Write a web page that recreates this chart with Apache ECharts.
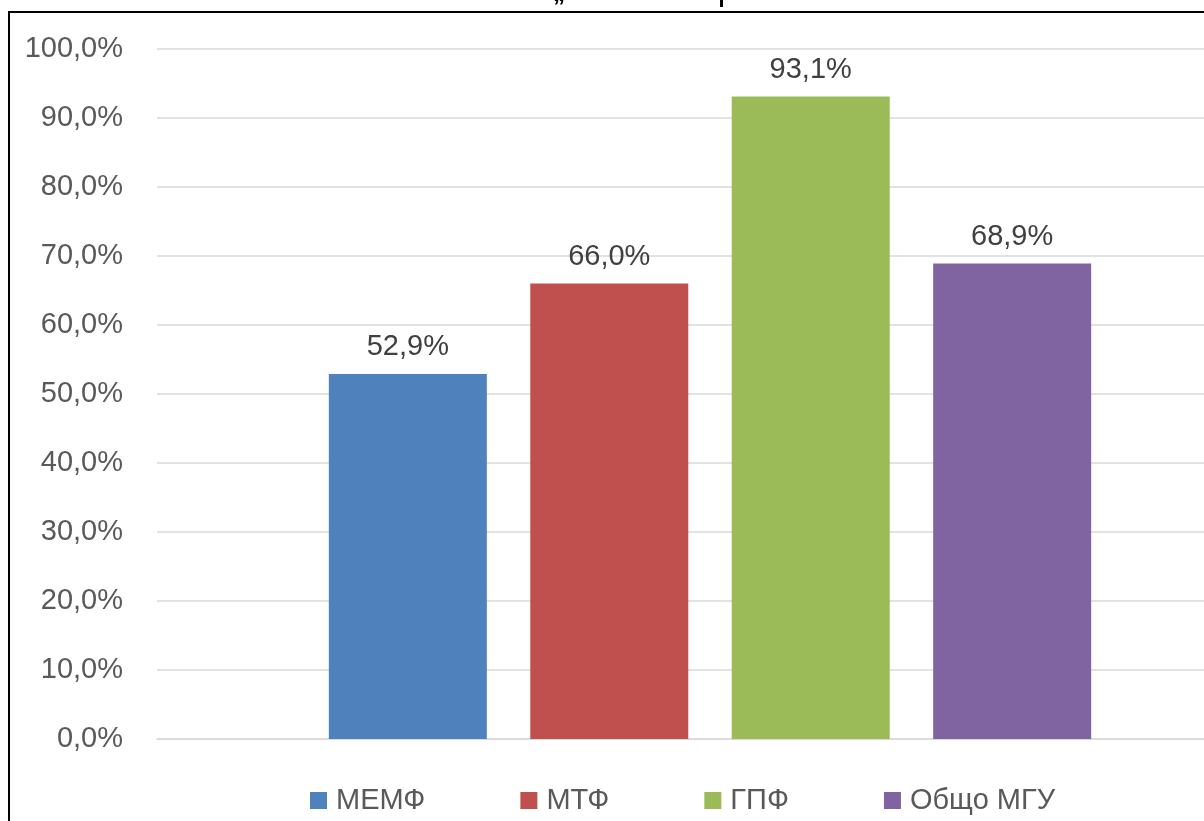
<!DOCTYPE html>
<html>
<head>
<meta charset="utf-8">
<script src="https://cdn.jsdelivr.net/npm/echarts@6/dist/echarts.min.js"></script>
<style>
  html, body { margin: 0; padding: 0; background: #fff; overflow: hidden; }
  /* the reference is cropped on the right, so the canvas is wider than the window */
  #chart { width: 1300px; height: 821px; }
</style>
</head>
<body>
<div id="chart"></div>
<script>
var categories = [''];
var seriesNames = ['МЕМФ', 'МТФ', 'ГПФ', 'Общо МГУ'];
var seriesValues = [52.9, 66.0, 93.1, 68.9];
var seriesColors = ['#4F81BD', '#C0504D', '#9BBB59', '#8064A2'];

var fontName = '"Liberation Sans", Arial, sans-serif';

function pct(v) {
    return Number(v).toFixed(1).replace('.', ',') + '%';
}

var chart = echarts.init(document.getElementById('chart'));

var series = seriesNames.map(function (name, i) {
    return {
        name: name,
        type: 'bar',
        data: [seriesValues[i]],
        barWidth: 158,
        barGap: '27.5%',
        itemStyle: { color: seriesColors[i] },
        label: {
            show: true,
            position: 'top',
            distance: 12,
            formatter: function (p) { return pct(p.value); },
            fontFamily: fontName,
            fontSize: 29,
            color: '#404040'
        }
    };
});

chart.setOption({
    backgroundColor: '#fff',
    animation: false,
    grid: { left: 157, right: 37, top: 49, bottom: 82, containLabel: false },
    legend: {
        left: 305,
        top: 781,
        itemWidth: 17,
        itemHeight: 17,
        itemGap: 95,
        icon: 'rect',
        textStyle: { fontFamily: fontName, fontSize: 29, color: '#595959', padding: [0, 0, 0, 4] },
        data: seriesNames
    },
    xAxis: {
        type: 'category',
        data: categories,
        axisLine: { lineStyle: { color: '#d9d9d9', width: 1.5 } },
        axisTick: { show: false },
        axisLabel: { show: false }
    },
    yAxis: {
        type: 'value',
        min: 0,
        max: 100,
        interval: 10,
        axisLine: { show: false },
        axisTick: { show: false },
        splitLine: { lineStyle: { color: '#d9d9d9', width: 1.5 } },
        axisLabel: {
            margin: 34,
            formatter: pct,
            fontFamily: fontName,
            fontSize: 29,
            color: '#595959'
        }
    },
    series: series,
    graphic: [
        {
            type: 'rect',
            shape: { x: 9, y: 12, width: 1400, height: 900 },
            style: { fill: 'none', stroke: '#000', lineWidth: 2 },
            silent: true
        },
        {
            type: 'text',
            left: 553,
            top: -18,
            style: { text: '„', font: 'bold 24px ' + fontName, fill: '#000' },
            silent: true
        },
        {
            type: 'rect',
            shape: { x: 720, y: 0, width: 3, height: 7 },
            style: { fill: '#000' },
            silent: true
        }
    ]
});
</script>
</body>
</html>
